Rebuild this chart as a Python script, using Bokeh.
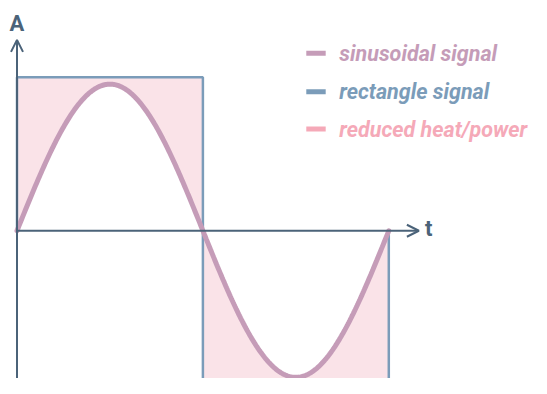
import numpy as np
from bokeh.plotting import figure
from bokeh.models import Range1d, Arrow, OpenHead, Label
from bokeh.core.properties import value
from bokeh.embed import file_html
from bokeh.resources import INLINE

# ---- data ----
period = 2 * np.pi
sine_amplitude = 0.955
rect_t = [0, 0, np.pi, np.pi, 2 * np.pi, 2 * np.pi]
rect_a = [0, 1, 1, -1, -1, 0]
legend_labels = ["sinusoidal signal", "rectangle signal", "reduced heat/power"]
axis_labels = ["A", "t"]

t = np.linspace(0, period, 400)
sine = sine_amplitude * np.sin(t)
rect_level = np.where(t <= np.pi, 1.0, -1.0)
fill_low = np.where(t <= np.pi, sine, rect_level)
fill_high = np.where(t <= np.pi, rect_level, sine)

# ---- styles ----
SINE_C = "#c59cb8"
RECT_C = "#7b9cb9"
FILL_C = "#fae3e8"
PINK_C = "#f5a9b8"
AXIS_C = "#4b6379"
FONT = "Roboto"

# layout helpers: reference-picture px -> data units
REF_W, REF_H = 547, 394
XS = 383 / period   # ref px per unit t
YS = 160.0          # ref px per unit A
X0, Y0 = 17, 240    # ref px of origin
W, H = 531, 378


def tx(px):
    return (px - X0) / XS


def ay(py):
    return (Y0 - py) / YS


p = figure(width=W, height=H, output_backend="svg", toolbar_location=None,
           x_range=Range1d(tx(0), tx(REF_W)), y_range=Range1d(ay(REF_H), ay(0)),
           min_border=0)
p.axis.visible = False
p.grid.visible = False
p.outline_line_color = None
p.background_fill_color = "white"

p.varea(x=t, y1=fill_low, y2=fill_high, fill_color=FILL_C)
p.line(rect_t, rect_a, line_color=RECT_C, line_width=2.5)
p.line(t, sine, line_color=SINE_C, line_width=5, line_cap="round")

# axes
p.add_layout(Arrow(end=OpenHead(size=12, line_color=AXIS_C, line_width=2),
                   x_start=0, y_start=0, x_end=tx(431), y_end=0,
                   line_color=AXIS_C, line_width=2))
p.add_layout(Arrow(end=OpenHead(size=12, line_color=AXIS_C, line_width=2),
                   x_start=0, y_start=ay(420), x_end=0, y_end=ay(41),
                   line_color=AXIS_C, line_width=2))
p.add_layout(Label(x=0, y=ay(24), text=axis_labels[0], text_font=FONT,
                   text_font_style="bold", text_font_size="22px",
                   text_color=AXIS_C, text_align="center", text_baseline="middle"))
p.add_layout(Label(x=tx(441), y=ay(238), text=axis_labels[1], text_font=FONT,
                   text_font_style="bold", text_font_size="22px",
                   text_color=AXIS_C, text_align="center", text_baseline="middle"))

# legend
legend_colors = [SINE_C, RECT_C, PINK_C]
rows_py = [55, 95, 134]
p.segment(x0=[tx(315)] * 3, x1=[tx(335)] * 3, y0=[ay(v) for v in rows_py],
          y1=[ay(v) for v in rows_py], line_color=legend_colors, line_width=5)
p.text(x=[tx(349)] * 3, y=[ay(v) for v in rows_py], text=legend_labels,
       text_color=legend_colors, text_font=value(FONT), text_font_style="bold italic",
       text_font_size="21.5px", text_baseline="middle", text_align="left")

open("out.html", "w").write(file_html(p, INLINE))
